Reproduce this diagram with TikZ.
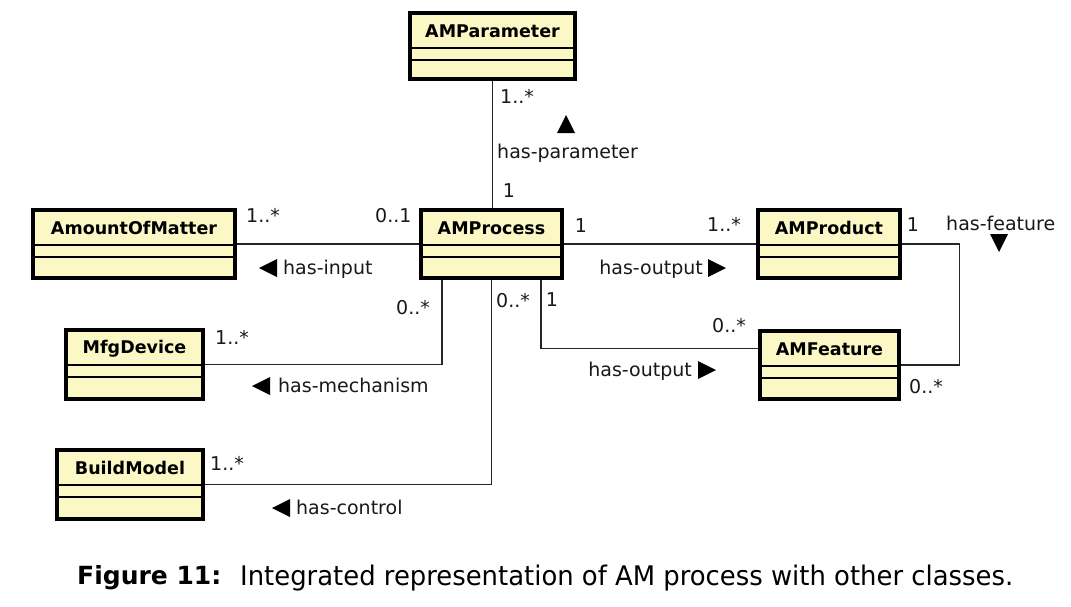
\documentclass[tikz,border=0pt]{standalone}
\usepackage{fontspec}
\setmainfont{DejaVu Sans}
\usetikzlibrary{calc}
\definecolor{clsfill}{HTML}{FCF8C6}
\tikzset{
  cls/.style={draw=black, line width=3.5pt, fill=clsfill, inner sep=0pt},
  divline/.style={line width=1.6pt},
  clsname/.style={font=\fontsize{17.5}{20}\selectfont\bfseries, inner sep=0pt},
  assoc/.style={line width=1.4pt, draw=black!85},
  lab/.style={font=\fontsize{19}{22}\selectfont, inner sep=0pt, text height=13pt, text depth=0pt, anchor=west, text=black!90},
  tri/.style={fill=black}
}
\newcommand\umlbox[6]{%
  \node[cls, minimum width={(#4-#2)*1pt}, minimum height={(#5-#3)*1pt}] (#1) at ({(#2+#4)/2},{(#3+#5)/2}) {};
  \draw[divline] ($(#1.north west)+(0,37)$) -- ($(#1.north east)+(0,37)$);
  \draw[divline] ($(#1.north west)+(0,49)$) -- ($(#1.north east)+(0,49)$);
  \node[clsname] (#1-name) at ($(#1.north)+(0,20)$) {#6};
}
\newcommand\triL[2]{\fill[tri] ({#1+9},{#2-9}) -- ({#1+9},{#2+9}) -- ({#1-9},{#2}) -- cycle;}
\newcommand\triR[2]{\fill[tri] ({#1-9},{#2-9}) -- ({#1-9},{#2+9}) -- ({#1+9},{#2}) -- cycle;}
\newcommand\triU[2]{\fill[tri] ({#1-9},{#2+9}) -- ({#1+9},{#2+9}) -- ({#1},{#2-9}) -- cycle;}
\newcommand\triD[2]{\fill[tri] ({#1-9},{#2-9}) -- ({#1+9},{#2-9}) -- ({#1},{#2+9}) -- cycle;}
\begin{document}
\begin{tikzpicture}[x=1pt, y=-1pt]
\fill[white] (0,0) rectangle (1071,606);
\useasboundingbox (0,0) rectangle (1071,606);

\umlbox{param}{410}{13}{575}{79}{AMParameter}
\umlbox{mat}{33}{210}{235}{278}{AmountOfMatter}
\umlbox{proc}{421}{210}{562}{278}{AMProcess}
\umlbox{prod}{758}{210}{900}{278}{AMProduct}
\umlbox{feat}{760}{331}{899}{399}{AMFeature}
\umlbox{mfg}{66}{330}{203}{399}{MfgDevice}
\umlbox{build}{57}{450}{203}{519}{BuildModel}

\draw[assoc] (param.south) -- (param.south |- proc.north);
\draw[assoc] (mat.east) -- (proc.west);
\draw[assoc] (proc.east) -- (prod.west);
\draw[assoc] (prod.east) -- ++(58,0) |- (feat.east);
\draw[assoc] ([xshift=49.5pt]proc.south) |- ($(feat.north west)+(0,19)$);
\draw[assoc] ([xshift=-49.5pt]proc.south) |- (mfg.east);
\draw[assoc] (proc.south) |- (build.east);

% labels
\node[lab] (m1) at (500,97) {1..*};
\node[lab] (l1) at (497,152) {has-parameter};
\node[lab, anchor=center] (m2) at (509,191) {1};
\triU{566}{124}

\node[lab] (m3) at (246,216) {1..*};
\node[lab] (m4) at (375,216) {0..1};
\node[lab] (l2) at (283,268) {has-input};
\triL{268}{268}

\node[lab, anchor=center] (m5) at (581,226) {1};
\node[lab] (m6) at (707,225) {1..*};
\node[lab, anchor=east] (l3) at (703,268) {has-output};
\triR{717}{268}

\node[lab, anchor=center] (m7) at (913,225) {1};
\node[lab] (l4) at (946,224) {has-feature};
\triD{999}{243}

\node[lab] (m8) at (396,308) {0..*};
\node[lab] (m9) at (496,301) {0..*};
\node[lab, anchor=center] (m10) at (552,300) {1};

\node[lab] (m11) at (712,326) {0..*};
\node[lab, anchor=east] (l5) at (692,370) {has-output};
\triR{707}{370}
\node[lab] (m12) at (909,387) {0..*};

\node[lab] (m13) at (215,338) {1..*};
\node[lab] (l6) at (278,386) {has-mechanism};
\triL{261}{386}

\node[lab] (m14) at (210,464) {1..*};
\node[lab] (l7) at (296,508) {has-control};
\triL{281}{508}

% caption
\node[anchor=west, inner sep=0pt, font=\fontsize{25}{29}\selectfont\bfseries] (capA) at (77,578) {Figure 11:};
\node[anchor=west, inner sep=0pt, font=\fontsize{27}{31}\selectfont] (capB) at (240,578) {\resizebox{773pt}{\height}{Integrated representation of AM process with other classes.}};
\end{tikzpicture}
\end{document}
